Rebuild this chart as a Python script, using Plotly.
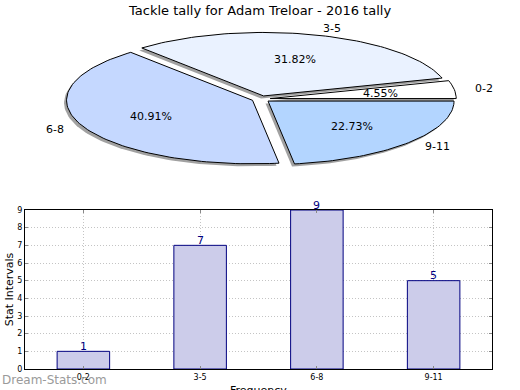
import math
import plotly.graph_objects as go

# ---- data ----
categories = ["0-2", "3-5", "6-8", "9-11"]
counts = [1, 7, 9, 5]
slice_colors = ["#ffffff", "#eaf2ff", "#c5d8ff", "#b3d5ff"]
title_text = "Tackle tally for Adam Treloar - 2016 tally"

W, H = 520, 390
# pie geometry (pixel space of the top axes)
cx, cy, rx, ry = 261.0, 99.0, 186.0, 63.5
explode = 0.05
shadow_dx, shadow_dy = -2.5, 2.5

fig = go.Figure()
total = sum(counts)
angles = []
a = 0.0
for v in counts:
    a2 = a + 360.0 * v / total
    angles.append((a, a2))
    a = a2


def wedge(t1, t2, dx=0.0, dy=0.0):
    m = math.radians((t1 + t2) / 2)
    ox = cx + explode * rx * math.cos(m) + dx
    oy = cy - explode * ry * math.sin(m) + dy
    xs, ys = [ox], [oy]
    n = max(8, int((t2 - t1) / 1.5))
    for i in range(n + 1):
        t = math.radians(t1 + (t2 - t1) * i / n)
        xs.append(ox + rx * math.cos(t))
        ys.append(oy - ry * math.sin(t))
    xs.append(ox)
    ys.append(oy)
    return xs, ys, ox, oy, m


# shadows
for (t1, t2) in angles:
    xs, ys, *_ = wedge(t1, t2, shadow_dx, shadow_dy)
    fig.add_trace(go.Scatter(x=xs, y=ys, mode="lines", fill="toself",
                             fillcolor="rgba(110,110,110,0.65)",
                             line=dict(width=0), hoverinfo="skip",
                             showlegend=False, xaxis="x", yaxis="y"))

annotations = []
for (t1, t2), cat, v, col in zip(angles, categories, counts, slice_colors):
    xs, ys, ox, oy, m = wedge(t1, t2)
    fig.add_trace(go.Scatter(x=xs, y=ys, mode="lines", fill="toself",
                             fillcolor=col, line=dict(color="black", width=1),
                             hoverinfo="skip", showlegend=False,
                             xaxis="x", yaxis="y"))
    lx = ox + 1.1 * rx * math.cos(m)
    ly = oy - 1.1 * ry * math.sin(m)
    annotations.append(dict(x=lx, y=ly, xref="x", yref="y", text=cat,
                            showarrow=False,
                            xanchor="left" if math.cos(m) > 0 else "right",
                            yanchor="middle",
                            font=dict(size=11, color="black")))
    px = ox + 0.6 * rx * math.cos(m)
    py = oy - 0.6 * ry * math.sin(m)
    annotations.append(dict(x=px, y=py, xref="x", yref="y",
                            text="%.2f%%" % (100.0 * v / total),
                            showarrow=False, xanchor="center", yanchor="middle",
                            font=dict(size=11, color="black")))

# bar chart
fig.add_trace(go.Bar(x=categories, y=counts, xaxis="x2", yaxis="y2",
                     width=0.45, marker=dict(color="#ccccea",
                                             line=dict(color="#000080", width=1)),
                     cliponaxis=False, showlegend=False, hoverinfo="skip"))
for cat, v in zip(categories, counts):
    annotations.append(dict(x=cat, y=v, xref="x2", yref="y2", text=str(v),
                            showarrow=False, xanchor="center", yanchor="middle",
                            yshift=5, font=dict(size=11, color="#000080")))

annotations.append(dict(x=259 / W, y=(H - 10) / H, xref="paper", yref="paper",
                        text=title_text, showarrow=False, xanchor="center",
                        yanchor="middle",
                        font=dict(size=13, color="black")))
annotations.append(dict(x=258 / W, y=(H - 382) / H, xref="paper", yref="paper",
                        text="Frequency", showarrow=False, xanchor="center",
                        yanchor="top", font=dict(size=11, color="black")))
annotations.append(dict(x=0, y=(H - 380) / H, xref="paper", yref="paper",
                        text="Dream-Stats.com", showarrow=False, xanchor="left",
                        yanchor="middle",
                        font=dict(size=12, color="#9a9a9a",
                                  family="DejaVu Sans")))

ax_common = dict(showline=True, linecolor="black", linewidth=1, mirror="ticks",
                 ticks="inside", ticklen=3, tickcolor="#888",
                 showgrid=True, gridcolor="#c4c4c4", griddash="1px,2px",
                 gridwidth=1, zeroline=False, automargin=False,
                 tickfont=dict(size=8, color="black"))

fig.update_layout(
    width=W, height=H, margin=dict(l=0, r=0, t=0, b=0, autoexpand=False),
    paper_bgcolor="white", plot_bgcolor="rgba(0,0,0,0)",
    font=dict(family="DejaVu Sans", color="black"),
    xaxis=dict(domain=[0, 1], range=[0, W], visible=False, fixedrange=True,
               automargin=False),
    yaxis=dict(domain=[0, 1], range=[H, 0], visible=False, fixedrange=True,
               automargin=False),
    xaxis2=dict(domain=[25 / W, 492 / W], anchor="y2", range=[-0.5, 3.5],
                **ax_common),
    yaxis2=dict(domain=[(H - 369) / H, (H - 210) / H], anchor="x2",
                range=[0, 9], dtick=1,
                title=dict(text="Stat Intervals", font=dict(size=11), standoff=1),
                **ax_common),
    annotations=annotations,
    bargap=0.55,
)

fig.write_html("out.html", config={"displayModeBar": False, "staticPlot": True},
               post_script="document.body.style.margin='0';"
                           "document.body.style.overflow='hidden';")
